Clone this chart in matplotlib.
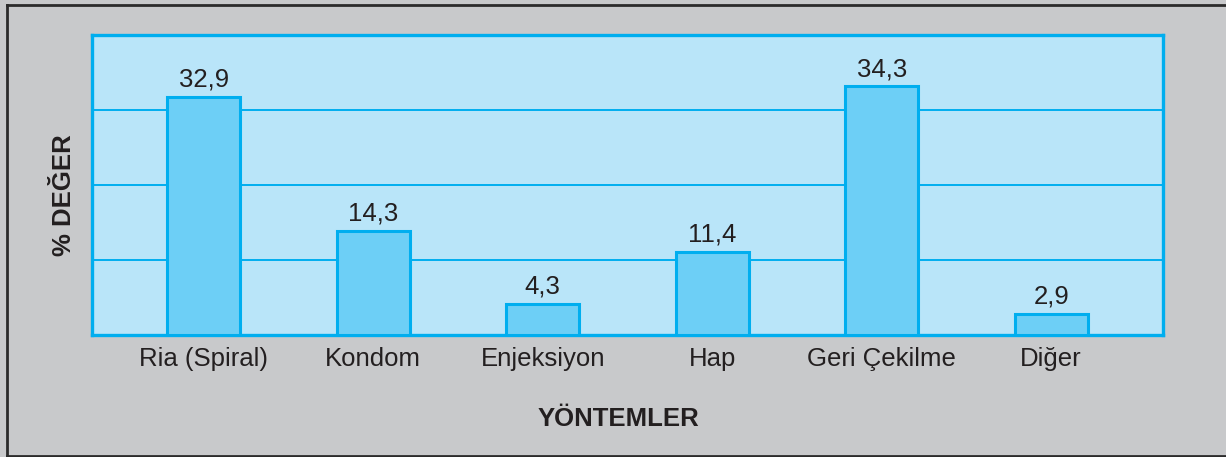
import matplotlib
matplotlib.use("Agg")
import matplotlib.pyplot as plt
from matplotlib.lines import Line2D
import numpy as np

categories = ["Ria (Spiral)", "Kondom", "Enjeksiyon", "Hap", "Geri Çekilme", "Diğer"]
values = [32.9, 14.3, 4.3, 11.4, 34.3, 2.9]
value_labels = ["32,9", "14,3", "4,3", "11,4", "34,3", "2,9"]

plt.rcParams['font.family'] = ['Liberation Sans', 'DejaVu Sans']

W, H = 1226, 457
fig = plt.figure(figsize=(W / 100, H / 100), dpi=100)
fig.patch.set_facecolor("#c8c9cb")

ax = fig.add_axes([92 / W, 1 - 335 / H, (1163 - 92) / W, (335 - 35) / H])
ax.set_facecolor("#b9e5f9")
cyan = "#00aeef"
text_col = "#231f20"

x = np.arange(len(categories))
ymax = 41.4
ax.set_xlim(-0.66, len(categories) - 1 + 0.66)
ax.set_ylim(0, ymax)
ax.set_yticks(np.linspace(0, ymax, 5)[1:-1])
ax.yaxis.grid(True, color=cyan, linewidth=1.4)
ax.set_axisbelow(True)

bars = ax.bar(x, values, width=0.43, color="#6dcff6", edgecolor=cyan, linewidth=2.2, zorder=3)
for xi, v, lab in zip(x, values, value_labels):
    ax.annotate(lab, (xi, v), xytext=(0, 7.5), textcoords="offset points",
                ha="center", va="baseline", fontsize=18.5, color=text_col)

ax.set_xticks(x)
ax.set_xticklabels(categories, fontsize=18.5, color=text_col)
for lbl in ax.get_xticklabels():
    lbl.set_verticalalignment("baseline")
ax.tick_params(axis="x", length=0, pad=22)
ax.tick_params(axis="y", length=0, labelleft=False)

for s in ax.spines.values():
    s.set_color(cyan)
    s.set_linewidth(2.4)

fig.text(618 / W, 1 - 426 / H, "YÖNTEMLER", ha="center", va="baseline",
         fontsize=18.5, fontweight="bold", color=text_col)
fig.text(64 / W, 1 - 195 / H, "% DEĞER", ha="center", va="center", rotation=90,
         fontsize=18.5, fontweight="bold", color=text_col)

border = "#2b2b2b"
fig.add_artist(Line2D([7 / W, 7 / W], [1 - 5 / H, 1 - 455.5 / H], transform=fig.transFigure, color=border, linewidth=2))
fig.add_artist(Line2D([7 / W, 1], [1 - 5 / H, 1 - 5 / H], transform=fig.transFigure, color=border, linewidth=2))
fig.add_artist(Line2D([7 / W, 1], [1 - 455.5 / H, 1 - 455.5 / H], transform=fig.transFigure, color=border, linewidth=2))

fig.savefig("out.png", dpi=100, facecolor=fig.get_facecolor())
